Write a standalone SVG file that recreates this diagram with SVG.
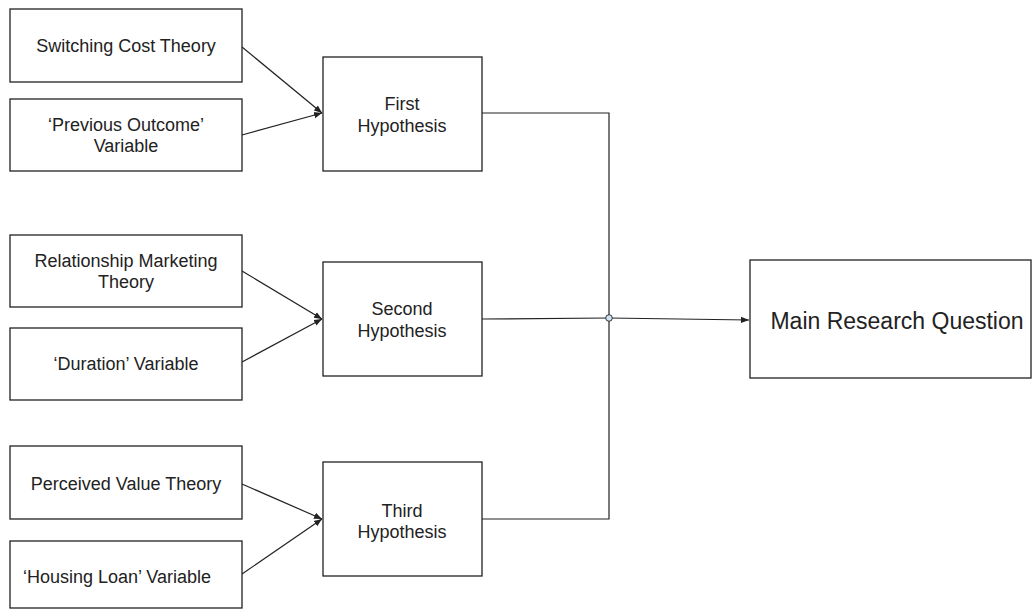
<svg xmlns="http://www.w3.org/2000/svg" width="1032" height="610" viewBox="0 0 1032 610">
<defs>
<style>
.box{fill:#fff;stroke:#222;stroke-width:1.3}
.t{font-family:"Liberation Sans",Arial,sans-serif;font-size:18px;fill:#222;text-anchor:middle}
.tb{font-family:"Liberation Sans",Arial,sans-serif;font-size:23px;fill:#222;text-anchor:middle}
.c{fill:none;stroke:#222;stroke-width:1.2}
</style>
<marker id="ah" viewBox="0 0 10 10" refX="10" refY="5" markerWidth="8" markerHeight="8" markerUnits="userSpaceOnUse" orient="auto">
<path d="M0,1 L10,5 L0,9 Z" fill="#222"/>
</marker>
</defs>
<rect width="1032" height="610" fill="#fff"/>
<g id="connectors">
<line class="c" x1="242" y1="47" x2="322" y2="113" marker-end="url(#ah)"/>
<line class="c" x1="242" y1="135" x2="322" y2="113" marker-end="url(#ah)"/>
<line class="c" x1="242" y1="271" x2="322" y2="319" marker-end="url(#ah)"/>
<line class="c" x1="242" y1="362" x2="322" y2="319" marker-end="url(#ah)"/>
<line class="c" x1="242" y1="484" x2="322" y2="519" marker-end="url(#ah)"/>
<line class="c" x1="242" y1="574" x2="322" y2="519" marker-end="url(#ah)"/>
<polyline class="c" points="482,113 609,113 609,318"/>
<line class="c" x1="482" y1="319" x2="609" y2="318"/>
<polyline class="c" points="482,519 609,519 609,318"/>
<line class="c" x1="609" y1="318" x2="749" y2="320" marker-end="url(#ah)"/>
<circle cx="609" cy="318" r="3.3" fill="#cfe2f3" stroke="#333" stroke-width="1"/>
</g>
<g id="switching">
<rect class="box" x="10" y="9" width="232" height="73"/>
<text class="t" x="126" y="52">Switching Cost Theory</text>
</g>
<g id="previous">
<rect class="box" x="10" y="99" width="232" height="72"/>
<text class="t" x="126" y="131">‘Previous Outcome’</text>
<text class="t" x="126" y="152">Variable</text>
</g>
<g id="first">
<rect class="box" x="323" y="57" width="159" height="114"/>
<text class="t" x="402" y="110">First</text>
<text class="t" x="402" y="132">Hypothesis</text>
</g>
<g id="relationship">
<rect class="box" x="10" y="235" width="232" height="72"/>
<text class="t" x="126" y="267">Relationship Marketing</text>
<text class="t" x="126" y="288">Theory</text>
</g>
<g id="duration">
<rect class="box" x="10" y="328" width="232" height="72"/>
<text class="t" x="126" y="370">‘Duration’ Variable</text>
</g>
<g id="second">
<rect class="box" x="323" y="262" width="159" height="114"/>
<text class="t" x="402" y="315">Second</text>
<text class="t" x="402" y="337">Hypothesis</text>
</g>
<g id="perceived">
<rect class="box" x="10" y="446" width="232" height="73"/>
<text class="t" x="126" y="490">Perceived Value Theory</text>
</g>
<g id="housing">
<rect class="box" x="10" y="541" width="232" height="67"/>
<text class="t" x="117" y="583">‘Housing Loan’ Variable</text>
</g>
<g id="third">
<rect class="box" x="323" y="462" width="159" height="114"/>
<text class="t" x="402" y="517">Third</text>
<text class="t" x="402" y="538">Hypothesis</text>
</g>
<g id="main">
<rect class="box" x="750" y="260" width="281" height="118"/>
<text class="tb" x="897" y="329">Main Research Question</text>
</g>
</svg>
